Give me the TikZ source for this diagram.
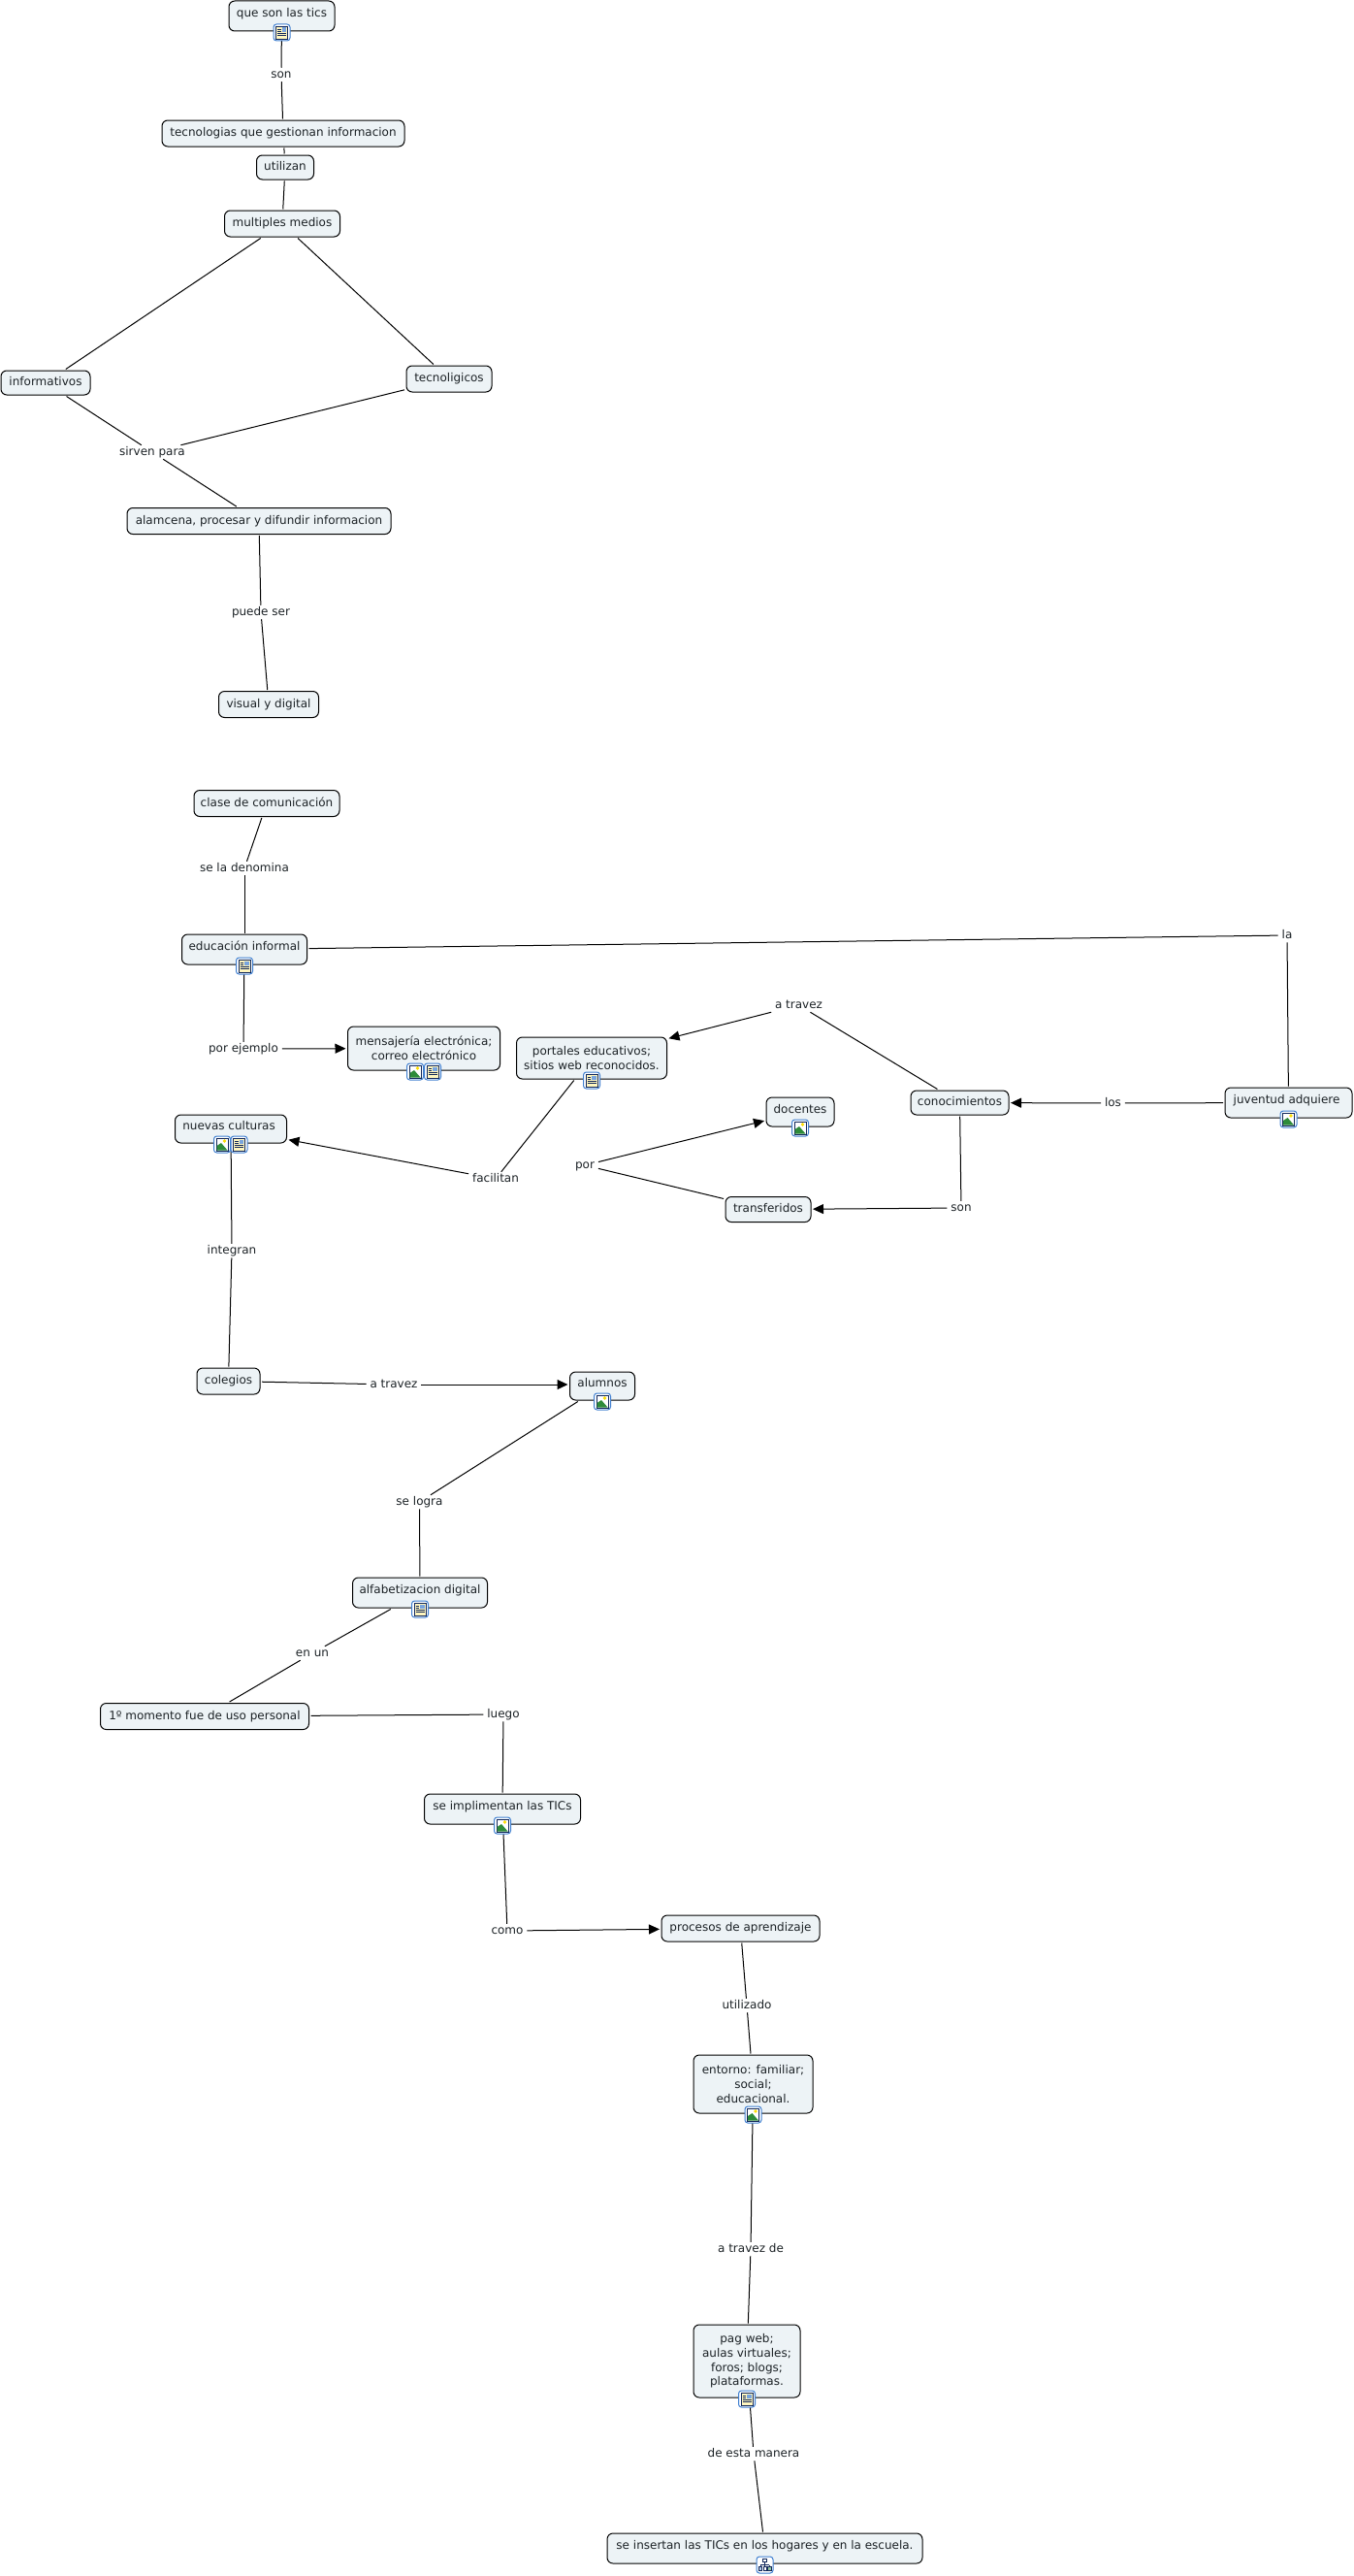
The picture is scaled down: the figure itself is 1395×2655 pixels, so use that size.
\documentclass[tikz,border=0pt]{standalone}
\usepackage{fontspec}
\setmainfont{DejaVu Sans}
\usetikzlibrary{arrows.meta}

\definecolor{conceptfill}{HTML}{EDF3F6}
\definecolor{inktext}{HTML}{1C2226}
\definecolor{iconblue}{HTML}{3F7FD0}
\definecolor{iconpaper}{HTML}{FFF6BE}
\definecolor{iconnavy}{HTML}{12285A}
\definecolor{iconhill}{HTML}{2E8B3A}

\tikzset{
    concept/.style={draw,fill=conceptfill,rounded corners=6,line width=1,inner sep=0,outer xsep=2,outer ysep=1.5,
        align=center,text=inktext,font=\fontsize{12}{14.6}\selectfont},
    oneline/.style={concept,text height=9pt,text depth=2.5pt},
    withicon/.style={concept,text height=9pt,text depth=7pt},
    linkword/.style={inner xsep=4,inner ysep=2,outer sep=0,text=inktext,yshift=-1pt,
        text height=9pt,text depth=1.5pt,font=\fontsize{12}{14.6}\selectfont},
    tie/.style={line width=1},
    tiehead/.style={line width=1,-{Triangle[length=11,width=10]}},
    iconframe/.pic={
        \draw [iconblue,fill=white,line width=1,rounded corners=3] (-8.5,-8.5) rectangle (8.5,8.5);
    },
    docicon/.pic={
        \pic {iconframe};
        \draw [iconnavy,fill=iconpaper,line width=.8] (-6,-6.5) rectangle (6,6.5);
        \fill [iconblue!70] (0,-5) rectangle (4.5,-.5);
        \draw [iconnavy,line width=.7] (-4.5,-3) -- (-1,-3) (-4.5,-1) -- (-1,-1) (-4.5,1.3) -- (4.5,1.3) (-4.5,3.3) -- (4.5,3.3);
    },
    photoicon/.pic={
        \pic {iconframe};
        \draw [iconnavy,fill=white,line width=1] (-6,-6.5) rectangle (6,6.5);
        \fill [iconhill] (-5.5,6) -- (-5.5,1.5) -- (-1,-1.5) -- (5.5,6) -- cycle;
        \fill [yellow!80!orange] (2.5,-3.5) circle (1.8);
    },
    treeicon/.pic={
        \pic {iconframe};
        \draw [iconnavy,line width=.7] (0,-3) -- (0,0) (-4.5,0) -- (4.5,0) (-4.5,0) -- (-4.5,2) (4.5,0) -- (4.5,2) (0,0) -- (0,2);
        \draw [iconnavy,fill=white,line width=.8] (-2,-6.5) rectangle (2,-3);
        \draw [iconnavy,fill=iconblue!40,line width=.8] (-6.5,2) rectangle (-3,6);
        \draw [iconnavy,fill=iconhill!50,line width=.8] (3,2) rectangle (6.5,6);
        \draw [iconnavy,fill=white,line width=.8] (-1.5,2) rectangle (1.5,6);
    },
}

\begin{document}
\begin{tikzpicture}[x=1pt,y=-1pt]
    \useasboundingbox (0,0) rectangle (1395,2655);

    % first map
    \node [withicon,minimum width=109,minimum height=31] (queson) at (290.5,16.5) {que son las tics};
    \node [linkword] (lson) at (290,76) {son};
    \node [oneline,minimum width=250,minimum height=27] (tecnologias) at (292,137.5) {tecnologias que gestionan informacion};
    \node [oneline,minimum width=59,minimum height=25] (utilizan) at (294,172.5) {utilizan};
    \node [oneline,minimum width=119,minimum height=27] (multiples) at (291,230.5) {multiples medios};
    \node [oneline,minimum width=92,minimum height=25] (informativos) at (47,394.5) {informativos};
    \node [oneline,minimum width=88,minimum height=27] (tecnoligicos) at (463,390.5) {tecnoligicos};
    \node [linkword] (sirven) at (157,465) {sirven para};
    \node [oneline,minimum width=272,minimum height=27] (alamcena) at (267,537) {alamcena, procesar y difundir informacion};
    \node [linkword] (puede) at (269,630) {puede ser};
    \node [oneline,minimum width=103,minimum height=27] (visual) at (277,726) {visual y digital};

    % second map
    \node [oneline,minimum width=150,minimum height=27] (clase) at (275,828) {clase de comunicación};
    \node [linkword] (denomina) at (252,894) {se la denomina};
    \node [withicon,minimum width=129,minimum height=31] (educacion) at (252,978.5) {educación informal};
    \node [linkword] (ejemplo) at (251,1080) {por ejemplo};
    \node [concept,minimum width=157,minimum height=45] (mensajeria) at (437,1080.5) {mensajería electrónica;\\correo electrónico};
    \node [concept,minimum width=155,minimum height=43] (portales) at (610,1090.5) {portales educativos;\\sitios web reconocidos.};
    \node [withicon,minimum width=115,minimum height=29] (nuevas) at (238,1163.5) {nuevas culturas\ };
    \node [linkword] (facilitan) at (511,1214) {facilitan};
    \node [linkword] (por) at (603,1200) {por};
    \node [withicon,minimum width=70,minimum height=30] (docentes) at (825,1146) {docentes};
    \node [oneline,minimum width=88,minimum height=26] (transferidos) at (792,1246.5) {transferidos};
    \node [oneline,minimum width=101,minimum height=25] (conocimientos) at (989.5,1136.5) {conocimientos};
    \node [withicon,minimum width=131,minimum height=31] (juventud) at (1328.5,1136.5) {juventud adquiere\ };
    \node [linkword] (la) at (1327,963) {la};
    \node [linkword] (atravez) at (823.5,1035) {a travez};
    \node [linkword] (los) at (1147.5,1136) {los};
    \node [linkword] (lsonb) at (991,1244) {son};
    \node [linkword] (integran) at (239,1288) {integran};
    \node [oneline,minimum width=65,minimum height=27] (colegios) at (235.5,1423.5) {colegios};
    \node [linkword] (atravezb) at (406,1426) {a travez};
    \node [withicon,minimum width=67,minimum height=29] (alumnos) at (621,1428.5) {alumnos};
    \node [linkword] (selogra) at (432.5,1547) {se logra};
    \node [withicon,minimum width=139,minimum height=31] (alfabetizacion) at (433,1641.5) {alfabetizacion digital};
    \node [linkword] (enun) at (322,1703) {en un};
    \node [oneline,minimum width=215,minimum height=27] (momento) at (211,1769) {1º momento fue de uso personal};
    \node [linkword] (luego) at (519,1766) {luego};
    \node [withicon,minimum width=161,minimum height=31] (implimentan) at (518,1864.5) {se implimentan las TICs};
    \node [linkword] (como) at (523,1989) {como};
    \node [oneline,minimum width=163,minimum height=27] (procesos) at (763.5,1987.5) {procesos de aprendizaje};
    \node [linkword] (utilizado) at (770,2066) {utilizado};
    \node [concept,minimum width=123,minimum height=60] (entorno) at (776.5,2148) {entorno: familiar;\\social;\\educacional.};
    \node [linkword] (atravezde) at (774,2317) {a travez de};
    \node [concept,minimum width=110,minimum height=75] (pagweb) at (770,2433.5) {pag web;\\aulas virtuales;\\foros; blogs;\\plataformas.};
    \node [linkword] (manera) at (777,2528) {de esta manera};
    \node [withicon,minimum width=325,minimum height=31] (insertan) at (788.5,2626.5) {se insertan las TICs en los hogares y en la escuela.};

    \draw [tie] (queson) -- (lson);
    \draw [tie] (lson) -- (tecnologias);
    \draw [tie] (tecnologias) -- (utilizan);
    \draw [tie] (utilizan) -- (multiples);
    \draw [tie] (multiples) -- (informativos);
    \draw [tie] (multiples) -- (tecnoligicos);
    \draw [tie] (informativos) -- (sirven);
    \draw [tie] (tecnoligicos) -- (sirven);
    \draw [tie] (sirven) -- (alamcena);
    \draw [tie] (alamcena) -- (puede);
    \draw [tie] (puede) -- (visual);

    \draw [tie] (clase) -- (denomina);
    \draw [tie] (denomina) -- (educacion);
    \draw [tie] (educacion) -- (ejemplo);
    \draw [tiehead] (ejemplo) -- (mensajeria);
    \draw [tie] (educacion) -- (la);
    \draw [tie] (la) -- (juventud);
    \draw [tie] (juventud) -- (los);
    \draw [tiehead] (los) -- (conocimientos);
    \draw [tie] (conocimientos) -- (atravez);
    \draw [tiehead] (atravez) -- (portales);
    \draw [tie] (conocimientos) -- (lsonb);
    \draw [tiehead] (lsonb) -- (transferidos);
    \draw [tie] (portales) -- (facilitan);
    \draw [tiehead] (facilitan) -- (nuevas);
    \draw [tiehead] (por) -- (docentes);
    \draw [tie] (por) -- (transferidos);
    \draw [tie] (nuevas) -- (integran);
    \draw [tie] (integran) -- (colegios);
    \draw [tie] (colegios) -- (atravezb);
    \draw [tiehead] (atravezb) -- (atravezb -| alumnos.west);
    \draw [tie] (alumnos) -- (selogra);
    \draw [tie] (selogra) -- (alfabetizacion);
    \draw [tie] (alfabetizacion) -- (enun);
    \draw [tie] (enun) -- (momento);
    \draw [tie] (momento) -- (luego);
    \draw [tie] (luego) -- (implimentan);
    \draw [tie] (implimentan) -- (como);
    \draw [tiehead] (como) -- (procesos);
    \draw [tie] (procesos) -- (utilizado);
    \draw [tie] (utilizado) -- (entorno);
    \draw [tie] (entorno) -- (atravezde);
    \draw [tie] (atravezde) -- (pagweb);
    \draw [tie] (pagweb) -- (manera);
    \draw [tie] (manera) -- (insertan);

    % icons sit on the lower edge of their nodes
    \pic at (queson.south) {docicon};
    \pic at (educacion.south) {docicon};
    \pic at ([xshift=-9pt]mensajeria.south) {photoicon};
    \pic at ([xshift=9pt]mensajeria.south) {docicon};
    \pic at (portales.south) {docicon};
    \pic at ([xshift=-9pt]nuevas.south) {photoicon};
    \pic at ([xshift=8.5pt]nuevas.south) {docicon};
    \pic at (docentes.south) {photoicon};
    \pic at (juventud.south) {photoicon};
    \pic at (alumnos.south) {photoicon};
    \pic at (alfabetizacion.south) {docicon};
    \pic at (implimentan.south) {photoicon};
    \pic at (entorno.south) {photoicon};
    \pic at (pagweb.south) {docicon};
    \pic at (insertan.south) {treeicon};
\end{tikzpicture}
\end{document}
